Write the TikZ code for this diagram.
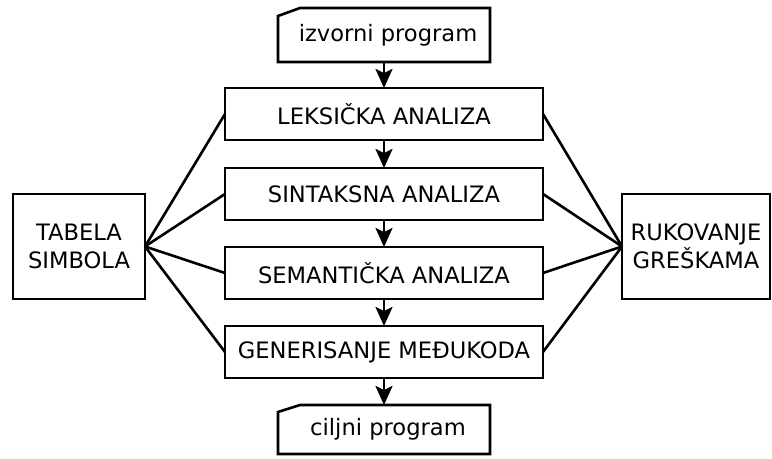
\documentclass[tikz,border=0pt]{standalone}
\usepackage{fontspec}
\setmainfont{DejaVu Sans}
\usetikzlibrary{arrows.meta, positioning}

\begin{document}
\begin{tikzpicture}[
    node distance=13.5pt,
    every node/.style={outer sep=0pt},
    phase/.style={rectangle, draw, line width=1.3pt, inner sep=0pt,
                  minimum width=159pt, minimum height=26pt, align=center,
                  font=\fontsize{11.3}{13.8}\selectfont},
    io/.style={rectangle, inner sep=0pt, minimum width=106pt, minimum height=#1,
               font=\fontsize{11.3}{13.8}\selectfont},
    side/.style={rectangle, draw, line width=1.3pt, inner sep=0pt,
                 minimum width=#1, minimum height=52.5pt, align=center,
                 font=\fontsize{11.3}{13.8}\selectfont},
    arr/.style={-{Stealth[length=9.5pt, width=8.5pt, inset=2pt]}, line width=1.3pt},
    link/.style={line width=1.3pt},
]
\useasboundingbox (-192pt,17.5pt) rectangle (194pt,-212pt);

\node[io=27pt] (src) at (0,0) {\hspace{4pt}izvorni program};
\node[phase, below=13pt of src] (lex) {LEKSIČKA ANALIZA};
\node[phase, below=14pt of lex] (syn) {SINTAKSNA ANALIZA};
\node[phase, below=of syn] (sem) {SEMANTIČKA ANALIZA};
\node[phase, below=of sem] (gen) {GENERISANJE MEĐUKODA};
\node[io=24.5pt, below=of gen] (dst) {\hspace{4pt}ciljni program};
\node[side=66pt, anchor=north east] (tab) at ([xshift=-40pt, yshift=-13pt]syn.north west) {TABELA\\SIMBOLA};
\node[side=74pt, anchor=north west] (err) at ([xshift=39.5pt, yshift=-13pt]syn.north east) {RUKOVANJE\\GREŠKAMA};

% manual input outlines
\draw[link] (src.south west) -- ([yshift=-4pt]src.north west) -- ([xshift=11pt]src.north west)
    -- (src.north east) -- (src.south east) -- cycle;
\draw[link] (dst.south west) -- ([yshift=-3.5pt]dst.north west) -- ([xshift=11pt]dst.north west)
    -- (dst.north east) -- (dst.south east) -- cycle;

\draw[arr] (src) -- (lex);
\draw[arr] (lex) -- (syn);
\draw[arr] (syn) -- (sem);
\draw[arr] (sem) -- (gen);
\draw[arr] (gen) -- (dst);

\foreach \p in {lex, syn, sem, gen} {
    \draw[link] (tab.east) -- (\p.west);
    \draw[link] (err.west) -- (\p.east);
}
\end{tikzpicture}
\end{document}
